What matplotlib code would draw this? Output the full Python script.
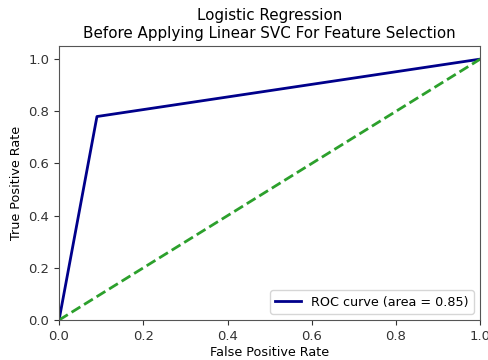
import matplotlib
matplotlib.use('Agg')
import matplotlib.pyplot as plt

# ROC curve points
fpr = [0.0, 0.09, 1.0]
tpr = [0.0, 0.78, 1.0]
roc_auc = 0.85
diag = [0.0, 1.0]

fig = plt.figure(figsize=(4.88, 3.6), dpi=100)
ax = fig.add_axes([0.121, 0.111, 0.863, 0.761])

ax.plot(fpr, tpr, color='darkblue', lw=2, label='ROC curve (area = %0.2f)' % roc_auc)
ax.plot(diag, diag, color='#2ca02c', lw=2, linestyle='--')
ax.set_xlim([0.0, 1.0])
ax.set_ylim([0.0, 1.05])
ax.set_xlabel('False Positive Rate', fontsize=9.2, labelpad=2)
ax.set_ylabel('True Positive Rate', fontsize=9.2)
ax.set_title('Logistic Regression\nBefore Applying Linear SVC For Feature Selection', fontsize=10.9)
ax.tick_params(labelsize=9.5, colors='#333333')
for s in ax.spines.values():
    s.set_color('#555555')
ax.legend(loc='lower right', fontsize=9.2)

fig.savefig('out.png', dpi=100)
